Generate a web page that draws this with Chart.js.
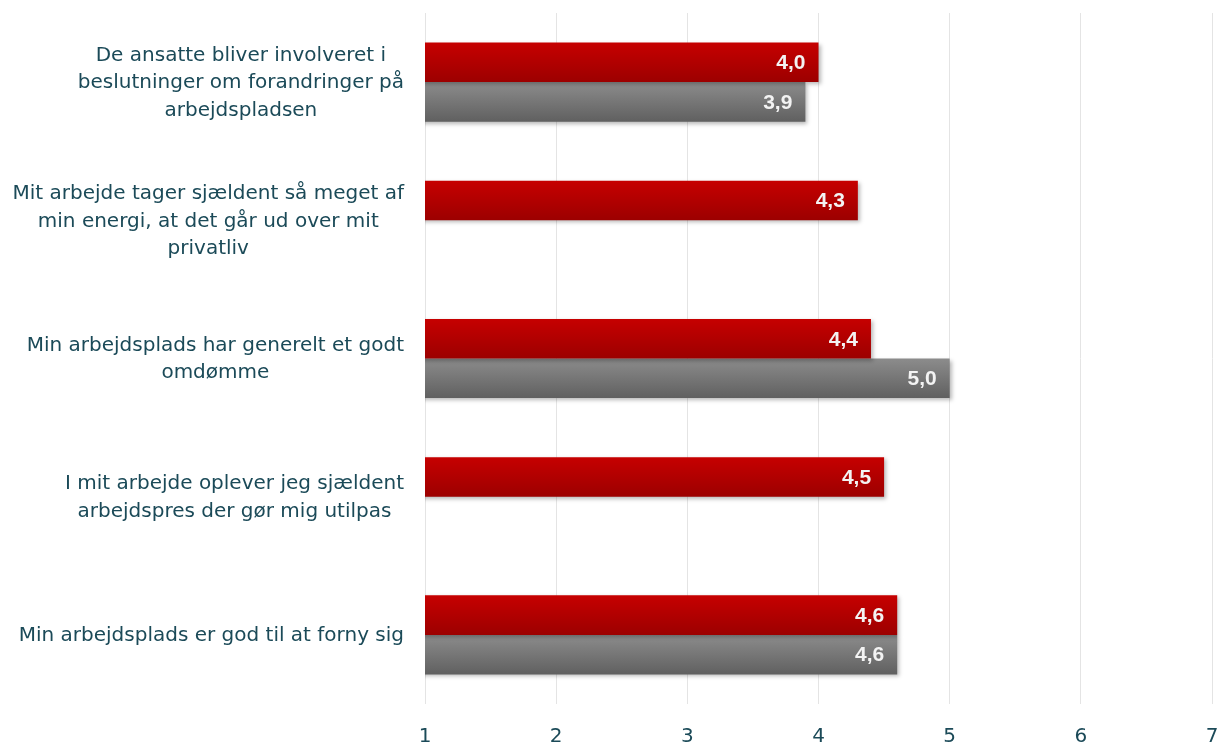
<!DOCTYPE html>
<html>
<head>
<meta charset="utf-8">
<script src="https://cdn.jsdelivr.net/npm/chart.js@4.4.1/dist/chart.umd.min.js"></script>
<style>
  html, body { margin: 0; padding: 0; background: #ffffff; }
  #wrap { width: 1219px; height: 744px; position: relative; }
</style>
</head>
<body>
<div id="wrap"><canvas id="c" width="1219" height="744"></canvas></div>
<script>
// Survey statements (each line of a label is one array entry)
const categories = [
  ["De ansatte bliver involveret i", "beslutninger om forandringer på", "arbejdspladsen"],
  ["Mit arbejde tager sjældent så meget af", "min energi, at det går ud over mit", "privatliv"],
  ["Min arbejdsplads har generelt et godt", "omdømme"],
  ["I mit arbejde oplever jeg sjældent", "arbejdspres der gør mig utilpas"],
  ["Min arbejdsplads er god til at forny sig"]
];
// Average scores on the 1–7 scale
const redValues  = [4.0, 4.3, 4.4, 4.5, 4.6];
const grayValues = [3.9, null, 5.0, null, 4.6];
const xTicks = [1, 2, 3, 4, 5, 6, 7];

const LABEL_COLOR = '#1b4a58';
const LABEL_FONT = '20px "DejaVu Sans", Verdana, sans-serif';
const CAT_PCT = 0.572;

// Vertical gradient per bar, computed from the category band on the y scale
function barGradient(ctx, top, bottom) {
  const chart = ctx.chart;
  const y = chart.scales.y;
  if (!y || !chart.chartArea) return top;
  const i = ctx.dataIndex;
  const band = Math.abs(y.getPixelForValue(1) - y.getPixelForValue(0));
  const thick = band * CAT_PCT / 2;
  const c = y.getPixelForValue(i);
  const y0 = ctx.datasetIndex === 0 ? c - thick : c;
  const g = chart.ctx.createLinearGradient(0, y0, 0, y0 + thick);
  g.addColorStop(0, top);
  g.addColorStop(1, bottom);
  return g;
}

// Soft drop shadow under the bars
const barShadow = {
  id: 'barShadow',
  beforeDatasetDraw(chart) {
    const ctx = chart.ctx;
    ctx.save();
    ctx.shadowColor = 'rgba(0,0,0,0.28)';
    ctx.shadowBlur = 4;
    ctx.shadowOffsetX = 2;
    ctx.shadowOffsetY = 2;
  },
  afterDatasetDraw(chart) {
    chart.ctx.restore();
  }
};

// Value labels inside the end of each bar
const valueLabels = {
  id: 'valueLabels',
  afterDatasetsDraw(chart) {
    const ctx = chart.ctx;
    ctx.save();
    ctx.font = 'bold 21px "Liberation Sans", Arial, sans-serif';
    ctx.fillStyle = '#f3f3f3';
    ctx.textAlign = 'right';
    ctx.textBaseline = 'middle';
    chart.data.datasets.forEach((ds, di) => {
      const meta = chart.getDatasetMeta(di);
      meta.data.forEach((bar, i) => {
        const v = ds.data[i];
        if (v === null || v === undefined) return;
        const txt = v.toFixed(1).replace('.', ',');
        ctx.fillText(txt, bar.x - 13, bar.y + 1);
      });
    });
    ctx.restore();
  }
};

// Category labels: each block centred on itself, blocks right-aligned to the axis
const categoryLabels = {
  id: 'categoryLabels',
  afterDraw(chart) {
    const ctx = chart.ctx;
    const y = chart.scales.y;
    const right = chart.chartArea.left - 21;
    const lineH = 27.5;
    ctx.save();
    ctx.font = LABEL_FONT;
    ctx.fillStyle = LABEL_COLOR;
    ctx.textAlign = 'center';
    ctx.textBaseline = 'middle';
    categories.forEach((lines, i) => {
      const w = Math.max(...lines.map(l => ctx.measureText(l).width));
      const cx = right - w / 2;
      const cy = y.getPixelForValue(i) + 1;
      const start = cy - (lines.length - 1) * lineH / 2;
      lines.forEach((l, k) => ctx.fillText(l, cx, start + k * lineH));
    });
    ctx.restore();
  }
};

new Chart(document.getElementById('c'), {
  type: 'bar',
  data: {
    labels: categories.map(l => l.join(' ')),
    datasets: [
      {
        data: redValues,
        backgroundColor: ctx => barGradient(ctx, '#c60000', '#9c0000'),
        categoryPercentage: CAT_PCT,
        barPercentage: 1
      },
      {
        data: grayValues,
        backgroundColor: ctx => barGradient(ctx, '#8c8c8c', '#606060'),
        categoryPercentage: CAT_PCT,
        barPercentage: 1
      }
    ]
  },
  options: {
    indexAxis: 'y',
    responsive: false,
    animation: false,
    devicePixelRatio: 1,
    layout: { padding: { top: 13, right: 7, left: 0, bottom: 0 } },
    plugins: {
      legend: { display: false },
      tooltip: { enabled: false }
    },
    scales: {
      x: {
        min: 1,
        max: 7,
        afterBuildTicks(scale) {
          scale.ticks = xTicks.map(v => ({ value: v }));
        },
        grid: { color: '#e4e4e4', lineWidth: 1, drawTicks: false },
        border: { display: false },
        ticks: {
          color: LABEL_COLOR,
          font: { family: '"DejaVu Sans", Verdana, sans-serif', size: 20 },
          padding: 21,
          maxRotation: 0
        },
        afterFit(scale) {
          scale.height = 40;
          scale.paddingLeft = 0;
          scale.paddingRight = 0;
        }
      },
      y: {
        grid: { display: false },
        border: { display: false },
        ticks: { display: false },
        afterFit(scale) { scale.width = 425; }
      }
    }
  },
  plugins: [barShadow, valueLabels, categoryLabels]
});
</script>
</body>
</html>
